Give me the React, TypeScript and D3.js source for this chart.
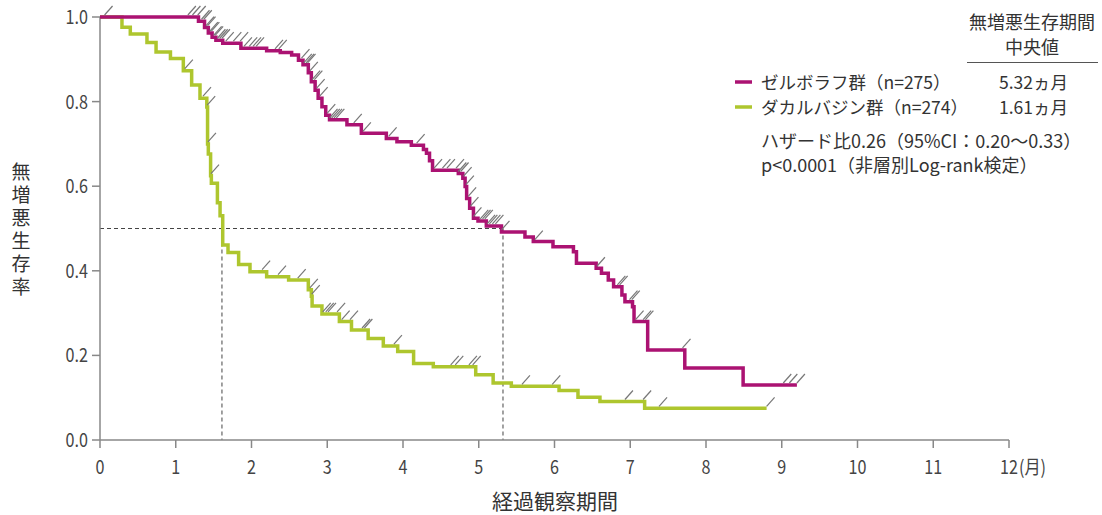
import * as d3 from "d3";

// ゼルボラフ群 step curve (months, survival)
const zelTimes = [0, 1.3, 1.38, 1.43, 1.48, 1.53, 1.62, 1.86, 2.2, 2.38, 2.53, 2.62, 2.68, 2.75, 2.79, 2.84, 2.88, 2.93, 2.98, 3.03, 3.26, 3.45, 3.78, 3.92, 4.11, 4.27, 4.31, 4.35, 4.39, 4.73, 4.79, 4.82, 4.84, 4.88, 4.93, 4.99, 5.1, 5.3, 5.61, 5.72, 5.98, 6.25, 6.29, 6.55, 6.62, 6.71, 6.78, 6.89, 6.93, 7.03, 7.05, 7.23, 7.72, 8.49];
const zelSurv = [1, 0.99, 0.975, 0.962, 0.952, 0.945, 0.938, 0.926, 0.92, 0.916, 0.91, 0.898, 0.887, 0.868, 0.847, 0.827, 0.808, 0.788, 0.768, 0.757, 0.745, 0.725, 0.713, 0.705, 0.697, 0.687, 0.678, 0.66, 0.638, 0.63, 0.619, 0.599, 0.571, 0.548, 0.524, 0.518, 0.506, 0.492, 0.48, 0.469, 0.457, 0.445, 0.418, 0.406, 0.394, 0.378, 0.362, 0.343, 0.327, 0.315, 0.28, 0.213, 0.17, 0.13];
const zelEnd = 9.2;
const zelCensor = [0.06, 1.16, 1.22, 1.29, 1.34, 1.37, 1.4, 1.42, 1.45, 1.47, 1.5, 1.52, 1.55, 1.58, 1.61, 1.66, 1.76, 1.85, 1.9, 1.97, 2.02, 2.06, 2.31, 2.36, 2.66, 2.69, 2.72, 2.74, 2.77, 2.8, 2.83, 2.86, 2.9, 3.0, 3.03, 3.06, 3.09, 3.12, 3.35, 3.47, 3.81, 4.18, 4.41, 4.52, 4.58, 4.7, 4.73, 4.76, 4.8, 4.83, 4.86, 4.89, 4.93, 5.02, 5.05, 5.08, 5.11, 5.14, 5.18, 5.22, 5.3, 5.74, 6.56, 6.83, 6.86, 6.99, 7.02, 7.07, 7.17, 7.2, 7.69, 9.02, 9.1, 9.2];

// ダカルバジン群 step curve
const dacTimes = [0, 0.29, 0.4, 0.62, 0.74, 0.93, 1.1, 1.21, 1.32, 1.41, 1.42, 1.43, 1.46, 1.47, 1.55, 1.585, 1.62, 1.69, 1.83, 1.98, 2.2, 2.49, 2.75, 2.79, 2.8, 2.93, 3.16, 3.32, 3.54, 3.74, 3.93, 4.14, 4.4, 4.96, 5.19, 5.43, 6.06, 6.31, 6.6, 7.19];
const dacSurv = [1, 0.976, 0.96, 0.94, 0.917, 0.902, 0.873, 0.839, 0.808, 0.787, 0.7, 0.676, 0.625, 0.607, 0.561, 0.53, 0.461, 0.443, 0.415, 0.398, 0.386, 0.378, 0.355, 0.34, 0.317, 0.298, 0.28, 0.26, 0.24, 0.222, 0.209, 0.181, 0.173, 0.154, 0.135, 0.127, 0.117, 0.101, 0.091, 0.075];
const dacEnd = 8.8;
const dacCensor = [1.12, 1.36, 1.415, 1.425, 1.465, 2.14, 2.35, 2.61, 2.77, 2.795, 2.94, 2.98, 3.01, 3.13, 3.19, 3.3, 3.46, 3.49, 3.88, 4.63, 4.69, 4.87, 4.92, 5.57, 5.97, 6.93, 7.17, 7.38, 8.8];

const medians = [5.32, 1.61];
const xTicks = [0, 1, 2, 3, 4, 5, 6, 7, 8, 9, 10, 11, 12];
const yTicks = [0, 0.2, 0.4, 0.6, 0.8, 1.0];

const legendLabels = ["ゼルボラフ群（n=275）", "ダカルバジン群（n=274）"];
const legendMedians = ["5.32ヵ月", "1.61ヵ月"];
const notes = ["ハザード比0.26（95%CI：0.20〜0.33）", "p<0.0001（非層別Log-rank検定）"];
const yTitle = "無増悪生存率";
const xTitle = "経過観察期間";

const ZEL = "#AB1272";
const DAC = "#AEC62E";
const FONT = "'Noto Sans CJK JP', 'Noto Sans', sans-serif";

export default function App() {
  const width = 1102;
  const height = 515;

  const x = d3.scaleLinear().domain([0, 12]).range([100, 1009]);
  const y = d3.scaleLinear().domain([0, 1]).range([440, 17]);

  const line = d3
    .line<[number, number]>()
    .x((d) => x(d[0]))
    .y((d) => y(d[1]))
    .curve(d3.curveStepAfter);

  const survAt = (times: number[], surv: number[], t: number) =>
    surv[Math.max(0, d3.bisectRight(times, t) - 1)];

  // green first so magenta sits on top where they overlap
  const series = [
    { times: dacTimes, surv: dacSurv, end: dacEnd, censor: dacCensor, color: DAC },
    { times: zelTimes, surv: zelSurv, end: zelEnd, censor: zelCensor, color: ZEL },
  ];

  return (
    <svg
      width={width}
      height={height}
      style={{ position: "absolute", left: 0, top: 0, background: "#fff" }}
      fontFamily={FONT}
    >
      {/* median guides */}
      <g stroke="#444" strokeWidth={1} strokeDasharray="4,3" fill="none">
        <line x1={x(0)} x2={x(medians[0])} y1={y(0.5)} y2={y(0.5)} />
        {medians.map((m) => (
          <line key={m} x1={x(m)} x2={x(m)} y1={y(0.5)} y2={y(0)} />
        ))}
      </g>

      {/* axes */}
      <g stroke="#888" strokeWidth={1.5}>
        <line x1={x(0)} x2={x(0)} y1={y(0)} y2={y(1)} />
        <line x1={x(0)} x2={x(12)} y1={y(0)} y2={y(0)} />
        {yTicks.map((t) => (
          <line key={t} x1={x(0) - 8} x2={x(0)} y1={y(t)} y2={y(t)} />
        ))}
        {xTicks.map((t) => (
          <line key={t} x1={x(t)} x2={x(t)} y1={y(0)} y2={y(0) + 8} />
        ))}
      </g>
      <g fill="#444" fontSize={19}>
        {yTicks.map((t) => (
          <text
            key={t}
            transform={`translate(${x(0) - 12},${y(t) + 7}) scale(0.85,1)`}
            textAnchor="end"
          >
            {t.toFixed(1)}
          </text>
        ))}
        {xTicks.map((t) => (
          <text
            key={t}
            transform={`translate(${x(t)},${y(0) + 34}) scale(0.85,1)`}
            textAnchor="middle"
          >
            {t}
          </text>
        ))}
        <text transform={`translate(${x(12) + 10},${y(0) + 34}) scale(0.85,1)`}>(月)</text>
      </g>

      {/* axis titles */}
      <g fill="#333">
        <text
          x={21}
          y={162}
          fontSize={19}
          style={{ writingMode: "vertical-rl", letterSpacing: "4px" }}
        >
          {yTitle}
        </text>
        <text x={555} y={509} textAnchor="middle" fontSize={21}>
          {xTitle}
        </text>
      </g>

      {/* KM curves */}
      {series.map((s, i) => {
        const pts: [number, number][] = s.times.map((t, j) => [t, s.surv[j]]);
        pts.push([s.end, s.surv[s.surv.length - 1]]);
        return (
          <path
            key={i}
            d={line(pts) ?? ""}
            fill="none"
            stroke={s.color}
            strokeWidth={3.5}
            strokeLinejoin="miter"
          />
        );
      })}

      {/* censor marks */}
      <g stroke="#777" strokeWidth={1.2}>
        {series.map((s, i) =>
          s.censor.map((t, j) => {
            const cx = x(t);
            const cy = y(survAt(s.times, s.surv, t));
            return <line key={`${i}-${j}`} x1={cx} y1={cy - 2} x2={cx + 8} y2={cy - 11} />;
          })
        )}
      </g>

      {/* legend */}
      <g fill="#333" fontSize={17.5}>
        <text x={1032} y={29} textAnchor="middle" fontSize={18}>無増悪生存期間</text>
        <text x={1032} y={54} textAnchor="middle" fontSize={18}>中央値</text>
        <line x1={967} x2={1098} y1={62.5} y2={62.5} stroke="#555" strokeWidth={1} />
        {legendLabels.map((lab, i) => (
          <g key={lab} transform={`translate(0,${i * 25})`}>
            <line x1={735} x2={752} y1={82} y2={82} stroke={i === 0 ? ZEL : DAC} strokeWidth={3.5} />
            <text x={761} y={89}>{lab}</text>
            <text x={1068} y={89} textAnchor="end">{legendMedians[i]}</text>
          </g>
        ))}
        {notes.map((n, i) => (
          <text key={n} x={761} y={148 + i * 24} fontSize={18}>
            {n}
          </text>
        ))}
      </g>
    </svg>
  );
}
